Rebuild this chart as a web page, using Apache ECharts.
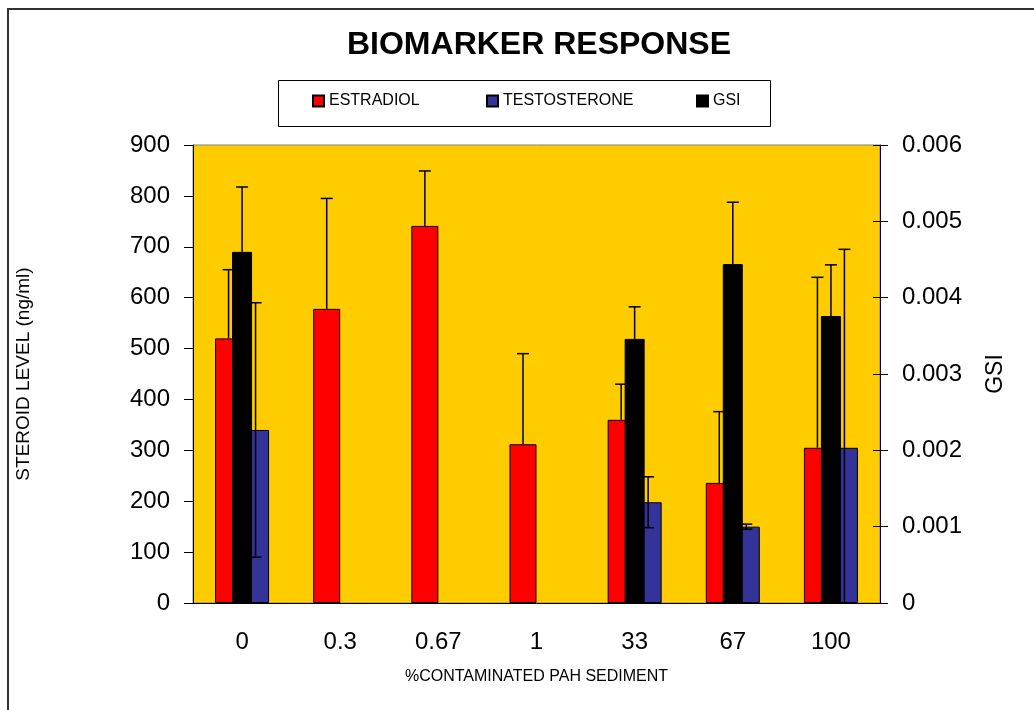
<!DOCTYPE html>
<html>
<head>
<meta charset="utf-8">
<title>Biomarker Response</title>
<script src="https://cdn.jsdelivr.net/npm/echarts@6/dist/echarts.min.js"></script>
<style>
  html, body { margin: 0; padding: 0; background: #fff; }
  #chart { width: 1034px; height: 710px; }
</style>
</head>
<body>
<div id="chart"></div>
<script>
const FONT = 'Arial, "Liberation Sans", sans-serif';

const categories = ['0', '0.3', '0.67', '1', '33', '67', '100'];
const estradiol = [520, 578, 741, 312, 360, 236, 305];
const estradiolErr = [135, 217, 108, 178, 70, 140, 335];
const testosterone = [340, null, null, null, 198, 150, 305];
const testosteroneErr = [250, null, null, null, 50, 5, 390];
const gsi = [0.0046, null, null, null, 0.00346, 0.00444, 0.00376];
const gsiErr = [0.00085, null, null, null, 0.00042, 0.00081, 0.00067];
const steroidTicks = [0, 900, 100];
const gsiTicks = [0, 0.006, 0.001];

const BAR_W = 27;

// [index, value, err] triples for the custom error-bar series
function errData(vals, errs) {
  const out = [];
  vals.forEach((v, i) => {
    if (v != null && errs[i] != null) out.push([i, v, errs[i]]);
  });
  return out;
}

function errorBars(offset, both) {
  return function (params, api) {
    const i = api.value(0), v = api.value(1), e = api.value(2);
    const top = api.coord([i, v + e]);
    const x = top[0] + offset;
    const lowVal = both ? v - e : v;
    const low = api.coord([i, Math.max(0, lowVal)]);
    const style = { stroke: '#000', lineWidth: 1.5 };
    const kids = [
      { type: 'line', shape: { x1: x, y1: top[1], x2: x, y2: low[1] }, style: style },
      { type: 'line', shape: { x1: x - 6, y1: top[1], x2: x + 6, y2: top[1] }, style: style }
    ];
    if (both && lowVal >= 0) {
      kids.push({ type: 'line', shape: { x1: x - 6, y1: low[1], x2: x + 6, y2: low[1] }, style: style });
    }
    return { type: 'group', children: kids };
  };
}

const chart = echarts.init(document.getElementById('chart'));

const legendBase = {
  orient: 'horizontal',
  top: 93,
  padding: 0,
  itemWidth: 11,
  itemHeight: 11,
  icon: 'rect',
  textStyle: { fontFamily: FONT, fontSize: 16, color: '#000', lineHeight: 16 }
};

chart.setOption({
  backgroundColor: '#fff',
  animation: false,
  title: {
    text: 'BIOMARKER RESPONSE',
    left: 534,
    textAlign: 'center',
    top: 24,
    textStyle: { fontFamily: FONT, fontSize: 32, fontWeight: 'bold', color: '#000' }
  },
  legend: [
    Object.assign({ left: 312, data: ['ESTRADIOL'] }, legendBase),
    Object.assign({ left: 486, data: ['TESTOSTERONE'] }, legendBase),
    Object.assign({ left: 696, data: ['GSI'] }, legendBase)
  ],
  graphic: [
    {
      type: 'polyline',
      shape: { points: [[8, 710], [8, 9], [1034, 9]] },
      style: { stroke: '#333', lineWidth: 2, fill: null },
      silent: true
    },
    {
      type: 'rect',
      shape: { x: 278.5, y: 80.5, width: 492, height: 46 },
      style: { stroke: '#000', lineWidth: 1, fill: null },
      silent: true
    }
  ],
  grid: {
    left: 193, right: 154, top: 145, bottom: 107,
    show: true,
    backgroundColor: '#FFCC00',
    borderColor: '#808080',
    borderWidth: 1
  },
  xAxis: [
    {
      type: 'category',
      data: categories,
      name: '%CONTAMINATED PAH SEDIMENT',
      nameLocation: 'middle',
      nameGap: 66,
      nameTextStyle: { fontFamily: FONT, fontSize: 16, color: '#000' },
      axisLine: { lineStyle: { color: '#000', width: 1 } },
      axisTick: { length: 7, lineStyle: { color: '#000' } },
      axisLabel: { fontFamily: FONT, fontSize: 24, color: '#000', margin: 27 }
    },
    {
      type: 'category',
      data: categories,
      show: false
    }
  ],
  yAxis: [
    {
      type: 'value',
      position: 'left',
      min: steroidTicks[0], max: steroidTicks[1], interval: steroidTicks[2],
      name: 'STEROID LEVEL (ng/ml)',
      nameLocation: 'middle',
      nameRotate: 90,
      nameGap: 160,
      nameTextStyle: { fontFamily: FONT, fontSize: 19, color: '#000' },
      axisLine: { show: true, lineStyle: { color: '#000', width: 1 } },
      axisTick: { show: true, length: 9, lineStyle: { color: '#000' } },
      axisLabel: { fontFamily: FONT, fontSize: 24, color: '#000', margin: 23 },
      splitLine: { show: false }
    },
    {
      type: 'value',
      position: 'right',
      min: gsiTicks[0], max: gsiTicks[1], interval: gsiTicks[2],
      name: 'GSI',
      nameLocation: 'middle',
      nameRotate: 90,
      nameGap: 104,
      nameTextStyle: { fontFamily: FONT, fontSize: 23, color: '#000' },
      axisLine: { show: true, lineStyle: { color: '#000', width: 1 } },
      axisTick: { show: true, length: 8, lineStyle: { color: '#000' } },
      axisLabel: { fontFamily: FONT, fontSize: 24, color: '#000', margin: 22 },
      splitLine: { show: false }
    },
    {
      // inner half of the crossing ticks on the right axis
      type: 'value',
      position: 'right',
      min: gsiTicks[0], max: gsiTicks[1], interval: gsiTicks[2],
      axisLine: { show: false },
      axisTick: { show: true, inside: true, length: 7, lineStyle: { color: '#000' } },
      axisLabel: { show: false },
      splitLine: { show: false }
    }
  ],
  series: [
    {
      name: 'ESTRADIOL',
      type: 'bar',
      xAxisIndex: 0, yAxisIndex: 0,
      data: estradiol,
      barWidth: BAR_W,
      barGap: '0%',
      itemStyle: { color: '#FF0000', borderColor: '#000', borderWidth: 1 },
      z: 2
    },
    {
      name: 'TESTOSTERONE',
      type: 'bar',
      xAxisIndex: 0, yAxisIndex: 0,
      data: testosterone,
      barWidth: BAR_W,
      barGap: '0%',
      itemStyle: { color: '#333399', borderColor: '#000', borderWidth: 1 },
      z: 2
    },
    {
      name: 'GSI',
      type: 'bar',
      xAxisIndex: 1, yAxisIndex: 1,
      data: gsi,
      barWidth: 20,
      itemStyle: { color: '#000', borderColor: '#000', borderWidth: 1 },
      z: 3
    },
    {
      type: 'custom',
      xAxisIndex: 0, yAxisIndex: 0,
      data: errData(estradiol, estradiolErr),
      renderItem: errorBars(-BAR_W / 2, false),
      z: 4, silent: true
    },
    {
      type: 'custom',
      xAxisIndex: 0, yAxisIndex: 0,
      data: errData(testosterone, testosteroneErr),
      renderItem: errorBars(BAR_W / 2, true),
      z: 4, silent: true
    },
    {
      type: 'custom',
      xAxisIndex: 1, yAxisIndex: 1,
      data: errData(gsi, gsiErr),
      renderItem: errorBars(0, false),
      z: 4, silent: true
    }
  ]
});
</script>
</body>
</html>
